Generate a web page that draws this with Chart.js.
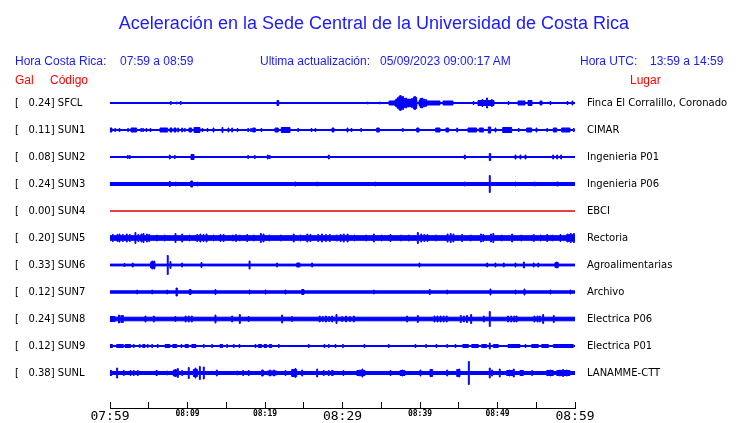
<!DOCTYPE html>
<html>
<head>
<meta charset="utf-8">
<script src="https://cdn.jsdelivr.net/npm/chart.js@4/dist/chart.umd.min.js"></script>
<style>
  html, body { margin: 0; padding: 0; background: #fff; }
  #wrap { position: relative; width: 740px; height: 423px; overflow: hidden; }
  #c { position: absolute; left: 0; top: 0; }
  .t { position: absolute; white-space: pre; font-family: "Liberation Sans", Arial, sans-serif; font-size: 12px; line-height: 12px; }
  .blue { color: #1a1aff; }
  .red { color: #ff0000; }
  #title { left: 0; width: 748px; text-align: center; top: 14px; font-size: 18px; line-height: 18px; }
</style>
</head>
<body>
<div id="wrap">
  <canvas id="c" width="740" height="423"></canvas>
  <div id="title" class="t blue">Aceleración en la Sede Central de la Universidad de Costa Rica</div>
  <div class="t blue" style="left:15px;top:55px">Hora Costa Rica:</div>
  <div class="t blue" style="left:120px;top:55px">07:59 a 08:59</div>
  <div class="t blue" style="left:260px;top:55px">Ultima actualización:</div>
  <div class="t blue" style="left:380px;top:55px">05/09/2023 09:00:17 AM</div>
  <div class="t blue" style="left:580px;top:55px">Hora UTC:</div>
  <div class="t blue" style="left:650px;top:55px">13:59 a 14:59</div>
  <div class="t red" style="left:15px;top:74px">Gal</div>
  <div class="t red" style="left:50px;top:74px">Código</div>
  <div class="t red" style="left:630px;top:74px">Lugar</div>
</div>
<script>
// ---- data ----
const timeTickLabels = ['07:59', '08:09', '08:19', '08:29', '08:39', '08:49', '08:59'];
const stationCodes = ['SFCL', 'SUN1', 'SUN2', 'SUN3', 'SUN4', 'SUN5', 'SUN6', 'SUN7', 'SUN8', 'SUN9', 'SUNL'];
const galValues = [0.24, 0.11, 0.08, 0.24, 0.00, 0.20, 0.33, 0.12, 0.24, 0.12, 0.38];
const places = ['Finca El Corralillo, Coronado', 'CIMAR', 'Ingenieria P01', 'Ingenieria P06', 'EBCI', 'Rectoria',
  'Agroalimentarias', 'Archivo', 'Electrica P06', 'Electrica P01', 'LANAMME-CTT'];
// background noise half-amplitude of each trace
const noiseLevel = [0.5, 0.5, 0.5, 1.5, 0, 2.3, 0.9, 1.2, 1.8, 0.5, 1.5];
// events: [minute, halfAmplitude] (spike) or [startMinute, endMinute, halfAmplitude] (burst)
const evSFCL = [[7.78, 2], [8.55, 1.5], [9.07, 2], [21.55, 21.77, 3], [33.2, 1.5], [34.75, 1.5],
  [36.0, 36.77, 2.5], [36.77, 39.6, 3.5], [36.9, 4.5], [37.1, 6], [37.3, 7.5], [37.45, 8], [37.6, 6.5], [37.75, 7],
  [37.95, 5], [38.15, 5.5], [38.4, 4.5], [38.65, 4.5], [38.9, 5], [39.15, 6.5], [39.3, 7], [39.45, 6],
  [39.87, 40.9, 3], [40.0, 5], [40.2, 5.5], [40.45, 4.5], [40.7, 4], [40.9, 42.58, 2.5], [42.97, 44.26, 2.5],
  [46.84, 2], [47.48, 49.55, 3], [48.0, 4], [48.6, 5.5], [49.2, 4], [51.35, 2], [52.65, 53.55, 2.5],
  [53.94, 54.45, 3], [55.48, 55.74, 2.5], [56.77, 2], [58.97, 2], [59.61, 2.5]];
const evSUN1 = [[0, 0.26, 2.5], [0.61, 2], [1.16, 2], [2.28, 2], [2.71, 3.44, 2.5], [3.96, 2], [4.22, 2],
  [4.64, 2], [5.16, 2], [6.45, 7.44, 2.5], [7.74, 8.0, 2.5], [8.26, 8.52, 2.5], [8.74, 2.5], [9.25, 2.5], [9.59, 2],
  [10.19, 10.54, 2.5], [10.84, 11.61, 3], [11.87, 2], [12.52, 2], [13.29, 2.5], [14.45, 3], [15.23, 2.5], [15.7, 2.5],
  [16.39, 2], [17.77, 2], [18.15, 2], [18.41, 18.75, 2.5], [19.48, 2], [21.29, 21.72, 2.5], [22.1, 23.23, 3],
  [24.22, 2], [25.94, 2], [26.45, 2], [28.65, 28.9, 2.5], [30.58, 2.5], [31.1, 2], [32.35, 2],
  [34.41, 34.75, 2.5], [37.72, 2], [39.57, 39.87, 2.5], [42.03, 42.58, 2.5], [43.35, 43.7, 2.5], [44.74, 2.5],
  [46.19, 47.31, 2.5], [47.65, 48.17, 2.5], [48.81, 49.12, 3.5], [49.68, 2.5], [50.67, 51.83, 3], [52.68, 2],
  [53.77, 54.41, 2.5], [54.97, 2.5], [56.35, 2], [57.2, 57.64, 2.5], [58.28, 59.35, 2.5], [59.78, 2]];
const evSUN2 = [[2.23, 2], [2.49, 2], [7.65, 2.5], [8.3, 2], [10.45, 10.84, 3], [17.77, 2], [18.62, 2],
  [20.3, 2.5], [20.55, 2], [28.17, 2.5], [45.72, 2.5], [48.94, 49.12, 4], [52.26, 2.5], [52.9, 2.5], [53.55, 2.5],
  [57.12, 2.5], [57.64, 2.5], [58.15, 2.5]];
const evSUN3 = [[7.65, 3], [8.43, 2.5], [10.41, 10.66, 3.5], [11.26, 2.5], [23.87, 2.5], [26.67, 2.5], [34.23, 2.5],
  [45.72, 2.5], [48.94, 49.06, 9], [52.26, 2.5], [54.75, 2.5], [57.64, 57.84, 2.5]];
const evSUN4 = [];
const evSUN5 = [[0.3, 4], [0.9, 4], [1.16, 4.5], [1.6, 4], [2.1, 4.5], [2.5, 4], [3.22, 6], [3.6, 4], [4.0, 4.5],
  [4.26, 5], [4.7, 4.5], [5.0, 4], [6.0, 3.5], [7.0, 3.5], [8.39, 5], [9.25, 4.5], [10.2, 3.5], [11.2, 4],
  [11.6, 4.5], [12.0, 4], [12.4, 4.5], [13.3, 3.5], [14.2, 4], [14.6, 4], [15.8, 3.5], [16.2, 4], [16.7, 3.5],
  [17.64, 4], [18.5, 3.5], [19.4, 5], [19.75, 4.5], [20.5, 3.5], [22.0, 3.5], [23.65, 4.5], [24.5, 3.5],
  [25.4, 4.5], [25.8, 4], [26.8, 4], [27.3, 4.5], [27.8, 4], [28.3, 4], [29.2, 3.5], [29.7, 4], [30.1, 4.5],
  [30.6, 4.5], [31.5, 3.5], [33.0, 3.5], [33.99, 4.5], [35.0, 3.5], [36.13, 4], [37.5, 3.5], [38.5, 3.5],
  [39.66, 6], [40.1, 4.5], [40.5, 4], [40.9, 4], [42.0, 3.5], [43.5, 4.5], [43.9, 5], [44.25, 4.5], [45.37, 4],
  [46.5, 3.5], [47.8, 4.5], [48.1, 4], [49.1, 4.5], [49.4, 5], [50.5, 3.5], [51.83, 4.5], [53.0, 3.5],
  [54.62, 4], [55.5, 3.5], [56.35, 4], [57.0, 3.5], [58.06, 4], [58.9, 60, 3.8], [59.0, 4.5], [59.4, 5], [59.8, 5]];
const evSUN6 = [[1.81, 2], [2.88, 2.5], [5.25, 5.81, 3.5], [5.4, 4.5], [5.65, 4.5], [7.39, 10], [7.74, 4],
  [9.25, 2.5], [11.74, 3], [17.95, 4.5], [21.5, 2.5], [24.09, 24.51, 2.5], [26.02, 2.5], [39.87, 2.5],
  [48.61, 2.5], [49.68, 2.5], [50.75, 2.5], [52.26, 2.5], [53.34, 3.5], [54.6, 2.5], [55.2, 2.5],
  [57.42, 57.84, 3], [57.6, 3.5]];
const evSUN7 = [[3.44, 2.5], [5.38, 2.5], [7.31, 2.5], [8.52, 8.69, 4.5], [10.23, 10.45, 3], [13.55, 3],
  [17.95, 2.5], [20.0, 2.5], [22.58, 2.5], [24.73, 25.03, 3], [33.99, 2.5], [41.2, 3], [43.45, 2.5], [49.03, 3.5],
  [52.26, 2.5], [53.42, 3.5], [56.77, 2.5], [59.35, 2.5]];
const evSUN8 = [[0, 0.65, 3], [1.1, 4.5], [1.4, 4], [1.6, 4], [4.52, 3.5], [5.59, 3.5], [8.39, 3], [9.7, 3.5],
  [10.1, 3.5], [10.5, 3.5], [13.55, 4.5], [15.7, 3.5], [16.69, 5], [17.84, 3], [22.15, 4.5], [23.44, 3],
  [27.0, 3.5], [27.4, 3], [27.8, 3.5], [28.2, 3], [28.6, 3.5], [29.16, 5], [29.9, 3], [30.4, 3.5], [30.9, 3],
  [31.4, 3.5], [38.28, 3.5], [39.66, 4], [41.8, 3.5], [42.2, 3.5], [42.6, 3.5], [43.0, 3.5], [43.4, 3.5],
  [45.2, 4], [45.6, 3.5], [46.0, 4], [46.54, 5], [48.17, 3.5], [48.94, 8], [51.3, 3.5], [51.7, 3.5], [52.1, 3.5],
  [52.4, 3.5], [54.7, 3.5], [55.1, 3.5], [55.4, 3.5], [55.83, 5], [57.2, 4]];
const evSUN9 = [[0, 0.34, 2], [0.86, 1.72, 2], [1.94, 2.67, 2], [3.01, 2], [3.78, 2], [4.22, 4.52, 2],
  [4.81, 2], [5.38, 2], [6.1, 2], [7.1, 7.74, 2], [8.09, 8.61, 2], [9.16, 2], [9.68, 10.11, 2],
  [10.54, 11.1, 2], [12.04, 2], [13.12, 2], [14.19, 14.54, 2], [15.05, 2], [15.91, 2], [16.64, 2],
  [18.71, 2], [19.14, 19.57, 2], [19.87, 20.22, 2], [20.55, 20.86, 2], [21.72, 2], [25.59, 2],
  [27.61, 2], [28.17, 2], [29.03, 2], [30.01, 2], [32.77, 2], [35.91, 2], [39.35, 2], [40.73, 2],
  [42.06, 2], [43.45, 2], [44.52, 2], [45.51, 46.24, 2], [46.67, 47.53, 2], [47.96, 48.61, 2], [48.94, 3.5],
  [49.46, 50.1, 2], [51.35, 52.9, 2], [53.55, 2], [54.41, 55.27, 2], [55.7, 56.56, 2], [57.2, 59.78, 2]];
const evSUNL = [[0, 0.22, 3], [0.86, 5.5], [1.72, 3], [2.58, 3], [3.01, 3], [3.53, 3], [5.93, 6.1, 3], [7.31, 2.5],
  [8.17, 8.82, 3.5], [8.4, 4], [8.69, 5], [9.25, 3], [10.1, 6], [10.75, 11.27, 4], [10.97, 5.5], [11.53, 7], [12.04, 6.5],
  [13.72, 3.5], [16.35, 2.5], [17.12, 3], [17.84, 3], [19.57, 19.78, 3.5], [20.3, 21.5, 2.5], [20.6, 3.5],
  [21.1, 3.5], [22.58, 3], [23.44, 24.09, 4], [23.87, 5], [24.73, 3.5], [26.67, 4.5], [27.52, 3], [28.17, 3],
  [28.59, 28.8, 3], [30.06, 3], [31.85, 32.9, 3], [32.2, 3.5], [32.51, 4.5], [36.13, 3], [37.42, 38.06, 3],
  [37.7, 3.5], [40.0, 3.5], [41.29, 41.63, 4], [43.45, 3.5], [44.74, 45.15, 4], [45.0, 4.5], [46.24, 12],
  [48.94, 5.5], [49.25, 3.5], [50.23, 4.5], [51.18, 52.04, 3], [51.5, 3.5], [52.04, 4.5], [52.9, 53.34, 3],
  [54.41, 3], [56.35, 57.2, 3], [56.8, 3.5], [57.64, 59.35, 3], [58.0, 3.5], [58.4, 4], [58.9, 3.5]];
const traceEvents = [evSFCL, evSUN1, evSUN2, evSUN3, evSUN4, evSUN5, evSUN6, evSUN7, evSUN8, evSUN9, evSUNL];

// ---- rendering ----
const SPAN = 60;          // minutes shown
const GAP = 27;           // vertical distance between traces (amplitude units)
const SPIKE_W = 0.12;     // width of a single spike (minutes)
const STROKE = 0.5;       // half of the outline width, already part of a drawn amplitude
const BLUE = '#0000ff', RED = '#e00000';

function envelope(base, events) {
  const evs = events.map(e => e.length === 2 ? [e[0], e[0] + SPIKE_W, e[1]] : e);
  const set = new Set([0, SPAN]);
  evs.forEach(e => { set.add(e[0]); set.add(Math.min(SPAN, e[1])); });
  const b = [...set].sort((a, c) => a - c);
  const pts = [];
  for (let k = 0; k < b.length - 1; k++) {
    const mid = (b[k] + b[k + 1]) / 2;
    let lvl = base;
    evs.forEach(e => { if (mid >= e[0] && mid <= e[1] && e[2] - STROKE > lvl) lvl = e[2] - STROKE; });
    pts.push({ x: b[k], a: lvl });
  }
  pts.push({ x: SPAN, a: pts[pts.length - 1].a });
  return pts;
}

const datasets = [];
stationCodes.forEach((code, i) => {
  const env = envelope(noiseLevel[i], traceEvents[i]);
  const color = galValues[i] === 0 ? RED : BLUE;
  const common = { borderColor: color, backgroundColor: color, borderWidth: 1, pointRadius: 0,
    stepped: true, tension: 0, yAxisID: 'y' };
  datasets.push(Object.assign({ label: code + '+', data: env.map(p => ({ x: p.x, y: i * GAP - p.a })), fill: false }, common));
  datasets.push(Object.assign({ label: code + '-', data: env.map(p => ({ x: p.x, y: i * GAP + p.a })), fill: '-1' }, common));
});

const leftLabels = stationCodes.map((c, i) => '[   ' + galValues[i].toFixed(2) + '] ' + c);
const traceTicks = s => { s.ticks = stationCodes.map((c, i) => ({ value: i * GAP })); };

const axisLine = {
  id: 'axisLine',
  afterDraw(chart) {
    const { ctx, chartArea: a } = chart;
    ctx.save();
    ctx.strokeStyle = '#000';
    ctx.lineWidth = 1;
    ctx.beginPath();
    ctx.moveTo(a.left, a.bottom + 6.5);
    ctx.lineTo(a.right + 1, a.bottom + 6.5);
    ctx.stroke();
    ctx.restore();
  }
};

new Chart(document.getElementById('c'), {
  type: 'line',
  data: { datasets },
  plugins: [axisLine],
  options: {
    responsive: false,
    animation: false,
    events: [],
    layout: { padding: { left: 15, top: 89.5, right: 0, bottom: 0 } },
    plugins: { legend: { display: false }, tooltip: { enabled: false }, title: { display: false } },
    scales: {
      x: {
        type: 'linear', min: 0, max: SPAN,
        ticks: {
          stepSize: 5, autoSkip: false, maxRotation: 0, padding: 0, color: '#000',
          callback: v => (v % 10 === 0 ? timeTickLabels[v / 10] : ''),
          font: ctx => (ctx.tick && ctx.tick.value % 30 === 0)
            ? { family: 'DejaVu Sans Mono', size: 13 }
            : { family: 'DejaVu Sans Mono', size: 8, weight: 'bold' }
        },
        grid: { drawOnChartArea: false, drawTicks: true, tickLength: 7, color: '#000', lineWidth: 1 },
        border: { display: false },
        afterFit: s => { s.height = 21; }
      },
      y: {
        type: 'linear', position: 'left', reverse: true, min: -13.5, max: 299,
        afterBuildTicks: traceTicks,
        ticks: { crossAlign: 'far', padding: 0, color: '#000', font: { family: 'DejaVu Sans', size: 10 },
          callback: (v, idx) => leftLabels[idx] },
        grid: { display: false, drawTicks: false },
        border: { display: false },
        afterFit: s => { s.width = 95; }
      },
      y2: {
        type: 'linear', position: 'right', reverse: true, min: -13.5, max: 299, display: true,
        afterBuildTicks: traceTicks,
        ticks: { crossAlign: 'near', padding: 12, color: '#000', font: { family: 'DejaVu Sans', size: 10 },
          callback: (v, idx) => places[idx] },
        grid: { display: false, drawTicks: false },
        border: { display: false },
        afterFit: s => { s.width = 165; }
      }
    }
  }
});
</script>
</body>
</html>
